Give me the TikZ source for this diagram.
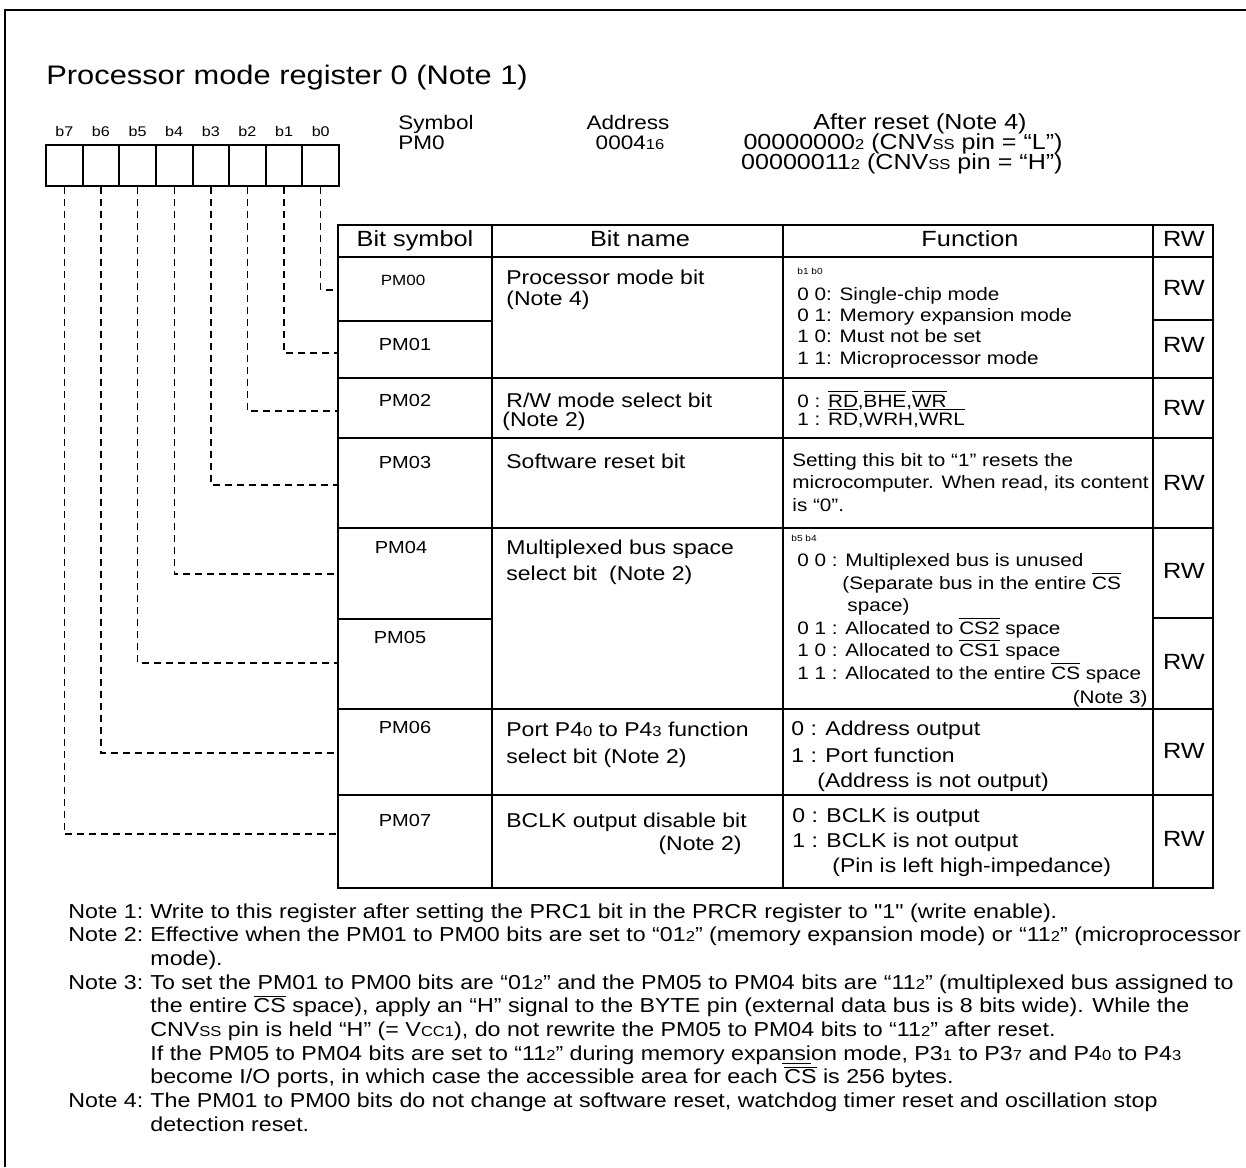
\documentclass[tikz,border=0pt]{standalone}
\usepackage{fontspec}
\setmainfont{Liberation Sans}[FakeStretch=1.15]
\newfontface\qface{Liberation Sans}[FakeStretch=1.15]
\newcommand\fTitle{\fontsize{13.4}{16}\selectfont}
\newcommand\fHead{\fontsize{11}{13}\selectfont}
\newcommand\fInfo{\fontsize{9.8}{12}\selectfont}
\newcommand\fReset{\fontsize{10.9}{13}\selectfont}
\newcommand\fName{\fontsize{10}{12}\selectfont}
\newcommand\fSym{\fontsize{8.7}{10}\selectfont}
\newcommand\fFunc{\fontsize{9}{11}\selectfont}
\newcommand\fNote{\fontsize{10.1}{12}\selectfont}
\newcommand\fBit{\fontsize{7}{8}\selectfont}
\newcommand\fTiny{\fontsize{4.4}{5}\selectfont}
\newcommand\sm[1]{{\fontsize{7.2}{8}\selectfont #1}}
\newcommand\ovl[1]{$\overline{\mbox{#1}}$}
\newcommand\sq{{\qface"}}
\tikzset{
	txt/.style={inner sep=0pt,anchor=base west},
	ctxt/.style={inner sep=0pt,anchor=base},
	cell/.style={draw,line width=1pt,minimum width=18.3pt,minimum height=20.5pt,inner sep=0pt},
	link/.style={line width=0.7pt,dash pattern=on 3.5pt off 2.5pt},
	tabline/.style={line width=1pt},
}
\begin{document}
\begin{tikzpicture}[x=0.5pt,y=-0.5pt]
	\useasboundingbox (0,0) rectangle (1246,1167);
	\draw[line width=1.3pt] (5,1167) -- (5,10) -- (1246,10);
	\node[txt,font=\fTitle] (title) at (46,84) {Processor mode register 0 (Note 1)};
	\foreach \i in {0,...,7}{
		\node[cell] (b\i) at ({320.7-36.625*\i},165.5) {};
		\node[ctxt,font=\fBit] (lb\i) at ({320.7-36.625*\i},136) {b\i};
	}
	\node[txt,font=\fInfo] (sym) at (398,129) {Symbol};
	\node[txt,font=\fInfo] (symv) at (398,149) {PM0};
	\node[ctxt,font=\fInfo] (adr) at (628,129) {Address};
	\node[ctxt,font=\fInfo] (adrv) at (630,149) {0004\sm{16}};
	\node[ctxt,font=\fReset] (rst) at (920,129) {After reset (Note 4)};
	\node[txt,font=\fReset,anchor=base east] (rstl) at (1063,149) {00000000\sm{2} (CNV\sm{SS} pin = ``L'')};
	\node[txt,font=\fReset,anchor=base east] (rsth) at (1063,169) {00000011\sm{2} (CNV\sm{SS} pin = ``H'')};
	\draw[tabline] (338,225) rectangle (1213,888);
	\foreach \y in {257,378,438,528,709,795}
		\draw[tabline] (338,\y) -- (1213,\y);
	\foreach \x in {492,783,1153}
		\draw[tabline] (\x,225) -- (\x,888);
	\draw[tabline] (338,321) -- (492,321) (1153,320) -- (1213,320)
		(338,619) -- (492,619) (1153,618) -- (1213,618);
	\node[ctxt,font=\fHead] (hsym) at (415,246) {Bit symbol};
	\node[ctxt,font=\fHead] (hname) at (640,246) {Bit name};
	\node[ctxt,font=\fHead] (hfun) at (970,246) {Function};
	\node[ctxt,font=\fHead] (hrw) at (1184,246) {RW};
	\node[ctxt,font=\fontsize{7.4}{9}\selectfont] (pm0) at (403,285) {PM00};
	\foreach \k/\x/\y in {1/405/350,2/405/406,3/405/468,4/401/553,5/400/643,6/405/733,7/405/826}
		\node[ctxt,font=\fSym] (pm\k) at (\x,\y) {PM0\k};
	\foreach \k/\y in {0/290,1/353,2/411,3/485,4/574,5/663,6/753,7/834}{
		\coordinate (t\k) at (338,\y);
		\draw[link] (b\k.south) |- (t\k);
	}
	\node[txt,font=\fName] (n0a) at (506,284) {Processor mode bit};
	\node[txt,font=\fName] (n0b) at (506,305) {(Note 4)};
	\node[txt,font=\fName] (n2a) at (506,407) {R/W mode select bit};
	\node[txt,font=\fName] (n2b) at (502,426) {(Note 2)};
	\node[txt,font=\fName] (n3) at (506,468) {Software reset bit};
	\node[txt,font=\fName] (n4a) at (506,554) {Multiplexed bus space};
	\node[txt,font=\fName] (n4b) at (506,580) {select bit\hspace{0.6em}(Note 2)};
	\node[txt,font=\fName] (n6a) at (506,736) {Port P4\sm{0} to P4\sm{3} function};
	\node[txt,font=\fName] (n6b) at (506,763) {select bit (Note 2)};
	\node[txt,font=\fName] (n7a) at (506,827) {BCLK output disable bit};
	\node[txt,font=\fName,anchor=base east] (n7b) at (742,850) {(Note 2)};
	\node[txt,font=\fTiny] (f0h) at (797,274) {b1 b0};
	\foreach \t [count=\k] in {{0 0: Single-chip mode},{0 1: Memory expansion mode},{1 0: Must not be set},{1 1: Microprocessor mode}}
		\node[txt,font=\fFunc] (f0\k) at (797,{279+21.3*\k}) {\t};
	\node[txt,font=\fFunc] (f2a) at (797,407) {0 : \ovl{RD},\ovl{BHE},\ovl{WR}};
	\node[txt,font=\fFunc] (f2b) at (797,425) {1 : \ovl{RD},WRH,\ovl{WRL}};
	\foreach \t [count=\k] in {{Setting this bit to ``1'' resets the},{microcomputer. When read, its content},{is ``0''.}}
		\node[txt,font=\fFunc] (f3\k) at (792,{443.5+22.7*\k}) {\t};
	\node[txt,font=\fTiny] (f4h) at (791,541) {b5 b4};
	\foreach \x/\y/\t [count=\k] in {797/566/{0 0 : Multiplexed bus is unused},842/589/{(Separate bus in the entire \ovl{CS}},847/611/{space)},797/634/{0 1 : Allocated to \ovl{CS2} space},797/656/{1 0 : Allocated to \ovl{CS1} space},797/679/{1 1 : Allocated to the entire \ovl{CS} space}}
		\node[txt,font=\fFunc] (f4\k) at (\x,\y) {\t};
	\node[txt,font=\fFunc,anchor=base east] (f4n) at (1148,703) {(Note 3)};
	\foreach \x/\y/\t [count=\k] in {791/735/{0 : Address output},791/762/{1 : Port function},817/787/{(Address is not output)}}
		\node[txt,font=\fName] (f6\k) at (\x,\y) {\t};
	\foreach \x/\y/\t [count=\k] in {792/822/{0 : BCLK is output},792/847/{1 : BCLK is not output},832/872/{(Pin is left high-impedance)}}
		\node[txt,font=\fName] (f7\k) at (\x,\y) {\t};
	\foreach \y [count=\k from 0] in {288,345,408,483,571,662,751,839}
		\node[font=\fHead,inner sep=0pt] (rw\k) at (1184,\y) {RW};
	\foreach \k/\y in {1/918,2/941.7,3/989.1,4/1107.6}
		\node[txt,font=\fNote] (nl\k) at (68,\y) {Note \k:};
	\foreach \t [count=\k from 0] in {{Write to this register after setting the PRC1 bit in the PRCR register to \sq1\sq{} (write enable).},{Effective when the PM01 to PM00 bits are set to ``01\sm{2}'' (memory expansion mode) or ``11\sm{2}'' (microprocessor},{mode).},{To set the PM01 to PM00 bits are ``01\sm{2}'' and the PM05 to PM04 bits are ``11\sm{2}'' (multiplexed bus assigned to},{the entire \ovl{CS} space), apply an ``H'' signal to the BYTE pin (external data bus is 8 bits wide). While the},{CNV\sm{SS} pin is held ``H'' (= V\sm{CC1}), do not rewrite the PM05 to PM04 bits to ``11\sm{2}'' after reset.},{If the PM05 to PM04 bits are set to ``11\sm{2}'' during memory expa\underline{nsi}on mode, P3\sm{1} to P3\sm{7} and P4\sm{0} to P4\sm{3}},{become I/O ports, in which case the accessible area for each \ovl{CS} is 256 bytes.},{The PM01 to PM00 bits do not change at software reset, watchdog timer reset and oscillation stop},{detection reset.}}
		\node[txt,font=\fNote] (nt\k) at (150,{918+23.7*\k}) {\t};
\end{tikzpicture}
\end{document}
